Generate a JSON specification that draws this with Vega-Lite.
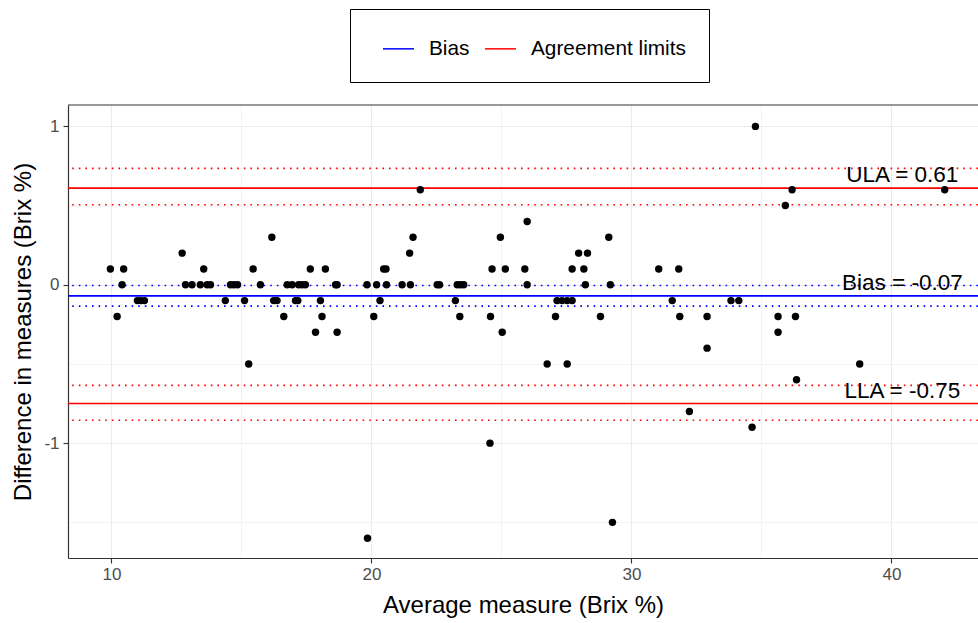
{
  "$schema": "https://vega.github.io/schema/vega-lite/v6.json",
  "width": 910,
  "height": 453,
  "autosize": {"type": "none"},
  "padding": {"left": 68, "top": 105, "right": 0, "bottom": 65},
  "background": "white",
  "config": {
    "font": "Liberation Sans",
    "view": {"stroke": null},
    "axis": {
      "domainColor": "#333333",
      "domainWidth": 1.2,
      "tickColor": "#333333",
      "tickWidth": 1.1,
      "tickSize": 5,
      "gridColor": "#EBEBEB",
      "labelColor": "#4D4D4D",
      "labelFontSize": 17,
      "titleFontSize": 24,
      "titleFontWeight": "normal",
      "titleColor": "#000000"
    }
  },
  "datasets": {
    "pairs": [
      {"avg": 9.96, "diff": 0.1}, {"avg": 10.47, "diff": 0.1}, {"avg": 13.55, "diff": 0.1}, {"avg": 15.45, "diff": 0.1},
      {"avg": 17.65, "diff": 0.1}, {"avg": 18.23, "diff": 0.1}, {"avg": 20.47, "diff": 0.1}, {"avg": 20.56, "diff": 0.1},
      {"avg": 24.64, "diff": 0.1}, {"avg": 25.15, "diff": 0.1}, {"avg": 25.9, "diff": 0.1}, {"avg": 27.72, "diff": 0.1},
      {"avg": 28.17, "diff": 0.1}, {"avg": 31.05, "diff": 0.1}, {"avg": 31.82, "diff": 0.1},
      {"avg": 34.77, "diff": 1.0}, {"avg": 21.88, "diff": 0.6}, {"avg": 36.18, "diff": 0.6}, {"avg": 42.05, "diff": 0.6},
      {"avg": 35.92, "diff": 0.5}, {"avg": 25.99, "diff": 0.4}, {"avg": 16.17, "diff": 0.3}, {"avg": 21.6, "diff": 0.3},
      {"avg": 24.96, "diff": 0.3}, {"avg": 29.13, "diff": 0.3}, {"avg": 12.72, "diff": 0.2}, {"avg": 21.47, "diff": 0.2},
      {"avg": 27.97, "diff": 0.2}, {"avg": 28.31, "diff": 0.2},
      {"avg": 10.41, "diff": 0}, {"avg": 12.85, "diff": 0}, {"avg": 13.1, "diff": 0}, {"avg": 13.42, "diff": 0},
      {"avg": 13.68, "diff": 0}, {"avg": 13.81, "diff": 0}, {"avg": 14.58, "diff": 0}, {"avg": 14.71, "diff": 0},
      {"avg": 14.85, "diff": 0}, {"avg": 15.73, "diff": 0}, {"avg": 16.76, "diff": 0}, {"avg": 16.95, "diff": 0},
      {"avg": 17.2, "diff": 0}, {"avg": 17.33, "diff": 0}, {"avg": 17.46, "diff": 0}, {"avg": 18.62, "diff": 0},
      {"avg": 18.68, "diff": 0}, {"avg": 19.83, "diff": 0}, {"avg": 20.2, "diff": 0}, {"avg": 20.58, "diff": 0},
      {"avg": 21.18, "diff": 0}, {"avg": 21.5, "diff": 0}, {"avg": 22.53, "diff": 0}, {"avg": 22.62, "diff": 0},
      {"avg": 23.3, "diff": 0}, {"avg": 23.42, "diff": 0}, {"avg": 23.55, "diff": 0}, {"avg": 25.99, "diff": 0},
      {"avg": 28.23, "diff": 0}, {"avg": 29.19, "diff": 0},
      {"avg": 11.0, "diff": -0.1}, {"avg": 11.12, "diff": -0.1}, {"avg": 11.27, "diff": -0.1}, {"avg": 14.38, "diff": -0.1},
      {"avg": 15.12, "diff": -0.1}, {"avg": 16.24, "diff": -0.1}, {"avg": 16.37, "diff": -0.1}, {"avg": 17.08, "diff": -0.1},
      {"avg": 17.17, "diff": -0.1}, {"avg": 18.04, "diff": -0.1}, {"avg": 20.33, "diff": -0.1}, {"avg": 23.23, "diff": -0.1},
      {"avg": 27.14, "diff": -0.1}, {"avg": 27.33, "diff": -0.1}, {"avg": 27.53, "diff": -0.1}, {"avg": 27.72, "diff": -0.1},
      {"avg": 31.57, "diff": -0.1}, {"avg": 33.83, "diff": -0.1}, {"avg": 34.13, "diff": -0.1},
      {"avg": 10.22, "diff": -0.2}, {"avg": 16.63, "diff": -0.2}, {"avg": 18.1, "diff": -0.2}, {"avg": 20.09, "diff": -0.2},
      {"avg": 23.4, "diff": -0.2}, {"avg": 24.58, "diff": -0.2}, {"avg": 27.08, "diff": -0.2}, {"avg": 28.81, "diff": -0.2},
      {"avg": 31.86, "diff": -0.2}, {"avg": 32.91, "diff": -0.2}, {"avg": 35.64, "diff": -0.2}, {"avg": 36.31, "diff": -0.2},
      {"avg": 17.85, "diff": -0.3}, {"avg": 18.68, "diff": -0.3}, {"avg": 25.03, "diff": -0.3}, {"avg": 35.64, "diff": -0.3},
      {"avg": 32.91, "diff": -0.4},
      {"avg": 15.28, "diff": -0.5}, {"avg": 26.76, "diff": -0.5}, {"avg": 27.53, "diff": -0.5}, {"avg": 38.78, "diff": -0.5},
      {"avg": 36.35, "diff": -0.6}, {"avg": 32.23, "diff": -0.8}, {"avg": 34.64, "diff": -0.9}, {"avg": 24.56, "diff": -1.0},
      {"avg": 29.27, "diff": -1.5}, {"avg": 19.85, "diff": -1.6}
    ],
    "limits": [
      {"kind": "Bias", "value": -0.07, "label": "Bias = -0.07"},
      {"kind": "Agreement limits", "value": 0.61, "label": "ULA = 0.61"},
      {"kind": "Agreement limits", "value": -0.75, "label": "LLA = -0.75"}
    ],
    "intervals": [
      {"kind": "Bias", "value": -0.005},
      {"kind": "Bias", "value": -0.135},
      {"kind": "Agreement limits", "value": 0.735},
      {"kind": "Agreement limits", "value": 0.505},
      {"kind": "Agreement limits", "value": -0.635},
      {"kind": "Agreement limits", "value": -0.855}
    ]
  },
  "encoding": {
    "x": {
      "type": "quantitative",
      "scale": {"domain": [8.33, 43.33], "nice": false, "zero": false},
      "axis": {
        "title": "Average measure (Brix %)",
        "values": [10, 15, 20, 25, 30, 35, 40],
        "labelExpr": "datum.value % 10 === 0 ? datum.label : ''",
        "tickOpacity": {"condition": {"test": "datum.value % 10 !== 0", "value": 0}, "value": 1},
        "gridWidth": {"condition": {"test": "datum.value % 10 !== 0", "value": 0.6}, "value": 1.1},
        "labelPadding": 3,
        "titlePadding": 11
      }
    },
    "y": {
      "type": "quantitative",
      "scale": {"domain": [-1.725, 1.135], "nice": false, "zero": false},
      "axis": {
        "title": "Difference in measures (Brix %)",
        "values": [-1.5, -1, -0.5, 0, 0.5, 1],
        "labelExpr": "datum.value % 1 === 0 ? '' + datum.value : ''",
        "tickOpacity": {"condition": {"test": "datum.value % 1 !== 0", "value": 0}, "value": 1},
        "gridWidth": {"condition": {"test": "datum.value % 1 !== 0", "value": 0.6}, "value": 1.1},
        "labelPadding": 4,
        "titlePadding": 8
      }
    },
    "color": {
      "field": "kind",
      "type": "nominal",
      "scale": {"domain": ["Bias", "Agreement limits"], "range": ["#0000FF", "#FF0000"]},
      "legend": {
        "title": null,
        "orient": "none",
        "legendX": 282,
        "legendY": -96,
        "direction": "horizontal",
        "symbolType": "stroke",
        "symbolSize": 961,
        "symbolStrokeWidth": 1.5,
        "labelFontSize": 20.8,
        "labelColor": "#000000",
        "labelOffset": 14,
        "columnPadding": 5,
        "symbolOffset": 9,
        "padding": 23,
        "strokeColor": "#000000",
        "fillColor": "white"
      }
    }
  },
  "layer": [
    {
      "data": {"name": "intervals"},
      "mark": {"type": "rule", "strokeDash": [1.6, 5], "strokeWidth": 1.6},
      "encoding": {
        "y": {"field": "value"}
      }
    },
    {
      "data": {"name": "limits"},
      "mark": {"type": "rule", "strokeWidth": 1.6},
      "encoding": {
        "y": {"field": "value"}
      }
    },
    {
      "data": {"name": "pairs"},
      "mark": {"type": "circle", "size": 55, "color": "#000000", "opacity": 1},
      "encoding": {
        "x": {"field": "avg"},
        "y": {"field": "diff"},
        "color": {"value": "#000000"}
      }
    },
    {
      "data": {"name": "limits"},
      "mark": {"type": "text", "fontSize": 22.5, "align": "center", "baseline": "alphabetic", "dy": -6},
      "encoding": {
        "x": {"datum": 40.42},
        "y": {"field": "value"},
        "text": {"field": "label"},
        "color": {"value": "#000000"}
      }
    },
    {
      "data": {"values": [{}]},
      "mark": {"type": "rule", "strokeWidth": 1.2},
      "encoding": {
        "y": {"datum": 1.135},
        "color": {"value": "#333333"}
      }
    }
  ]
}
